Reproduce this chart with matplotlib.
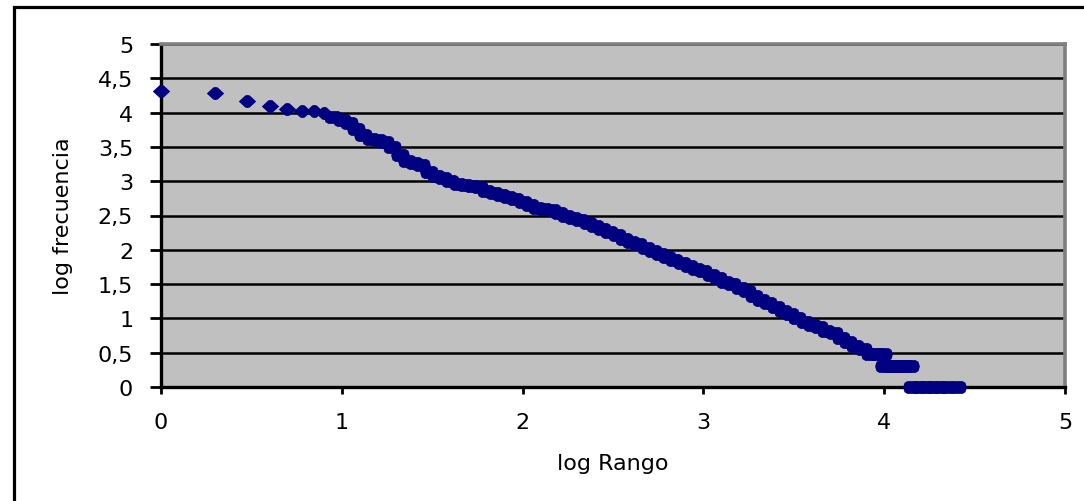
import matplotlib
matplotlib.use('Agg')
import matplotlib.pyplot as plt
from matplotlib.patches import Rectangle

# log10 del rango y log10 de la frecuencia
log_rango = [
    0.0, 0.301, 0.477, 0.602, 0.699, 0.778, 0.845, 0.903, 0.954,
    1.00, 1.04, 1.08, 1.12, 1.16, 1.20, 1.24, 1.28, 1.32, 1.36,
    1.40, 1.44, 1.48, 1.52, 1.56, 1.60, 1.64, 1.68, 1.72, 1.76,
    1.80, 1.84, 1.88, 1.92, 1.96, 2.00, 2.04, 2.08, 2.12, 2.16,
    2.20, 2.24, 2.28, 2.32, 2.36, 2.40, 2.44, 2.48, 2.52, 2.56,
    2.60, 2.64, 2.68, 2.72, 2.76, 2.80, 2.84, 2.88, 2.92, 2.96,
    3.00, 3.04, 3.08, 3.12, 3.16, 3.20, 3.24, 3.28, 3.32, 3.36,
    3.40, 3.44, 3.48, 3.52, 3.56, 3.60, 3.64, 3.68, 3.72, 3.76,
    3.80, 3.84, 3.88, 3.92, 3.96, 3.995,
    4.00, 4.03, 4.06, 4.09, 4.12, 4.145,
    4.155, 4.19, 4.23, 4.27, 4.31, 4.35, 4.40,
]
log_frecuencia = [
    4.32, 4.29, 4.175, 4.09, 4.05, 4.02, 4.02, 3.99, 3.94,
    3.89, 3.85, 3.76, 3.68, 3.62, 3.60, 3.57, 3.50, 3.38, 3.30,
    3.27, 3.24, 3.14, 3.07, 3.04, 3.00, 2.96, 2.94, 2.93, 2.91,
    2.86, 2.83, 2.80, 2.77, 2.735, 2.69, 2.65, 2.61, 2.59, 2.575,
    2.54, 2.50, 2.47, 2.44, 2.39, 2.34, 2.30, 2.26, 2.21, 2.16,
    2.12, 2.08, 2.02, 1.98, 1.94, 1.89, 1.85, 1.81, 1.77, 1.72,
    1.69, 1.63, 1.59, 1.53, 1.50, 1.44, 1.40, 1.33, 1.27, 1.22,
    1.16, 1.11, 1.06, 1.01, 0.95, 0.90, 0.87, 0.82, 0.78, 0.72,
    0.66, 0.60, 0.55, 0.48, 0.477, 0.477,
    0.301, 0.301, 0.301, 0.301, 0.301, 0.301,
    0.0, 0.0, 0.0, 0.0, 0.0, 0.0, 0.0,
]

x_ticks = [0, 1, 2, 3, 4, 5]
y_ticks = [0, 0.5, 1, 1.5, 2, 2.5, 3, 3.5, 4, 4.5, 5]
y_tick_labels = ['0', '0,5', '1', '1,5', '2', '2,5', '3', '3,5', '4', '4,5', '5']

W, H = 1084, 502
fig = plt.figure(figsize=(W / 100, H / 100), dpi=100)
fig.patch.set_facecolor('white')

# plot area in pixel coords
left, right, top, bottom = 161, 1065, 45, 388
ax = fig.add_axes([left / W, 1 - bottom / H, (right - left) / W, (bottom - top) / H])
ax.set_facecolor('#c0c0c0')

# first points stand alone as diamonds, the dense tail merges into a thick band
n_sep = 8
diamond = [(-1, 0), (-0.25, 0.7), (0, 0.75), (0.25, 0.7), (1, 0),
           (0.25, -0.7), (0, -0.75), (-0.25, -0.7), (-1, 0)]
blob = [(-1, 0), (-0.85, 0.5), (-0.55, 0.68), (0.55, 0.68), (0.85, 0.5), (1, 0),
        (0.85, -0.5), (0.55, -0.68), (-0.55, -0.68), (-0.85, -0.5), (-1, 0)]
ax.plot(log_rango[:n_sep], log_frecuencia[:n_sep], linestyle='none', marker=diamond,
        markersize=12.5, color='#000080', markeredgewidth=0, clip_on=False, zorder=5)
ax.plot(log_rango[n_sep:], log_frecuencia[n_sep:], linestyle='none', marker=blob,
        markersize=13.5, color='#000080', markeredgewidth=0, clip_on=False, zorder=5)

ax.set_xlim(0, 5)
ax.set_ylim(0, 5)
ax.set_xticks(x_ticks)
ax.set_xticklabels([str(t) for t in x_ticks])
ax.set_yticks(y_ticks)
ax.set_yticklabels(y_tick_labels)

ax.yaxis.grid(True, color='black', linewidth=1.8)
ax.set_axisbelow(True)

for side in ['left', 'bottom']:
    ax.spines[side].set_color('black')
    ax.spines[side].set_linewidth(2.4)
for side in ['top', 'right']:
    ax.spines[side].set_color('#808080')
    ax.spines[side].set_linewidth(2.6)

ax.tick_params(axis='y', direction='out', length=8, width=2, pad=12, labelsize=16)
ax.tick_params(axis='x', direction='out', length=5, width=2, pad=13, labelsize=16)

ax.set_xlabel('log Rango', fontsize=16, labelpad=15)
ax.set_ylabel('log frecuencia', fontsize=16, labelpad=18)

# outer chart border (runs off the right and bottom edge)
border = Rectangle((13.5 / W, -0.5), 2, 1.5 - 7.5 / H, transform=fig.transFigure,
                   fill=False, edgecolor='black', linewidth=2.3)
fig.add_artist(border)

plt.savefig('out.png', dpi=100)
plt.close(fig)
